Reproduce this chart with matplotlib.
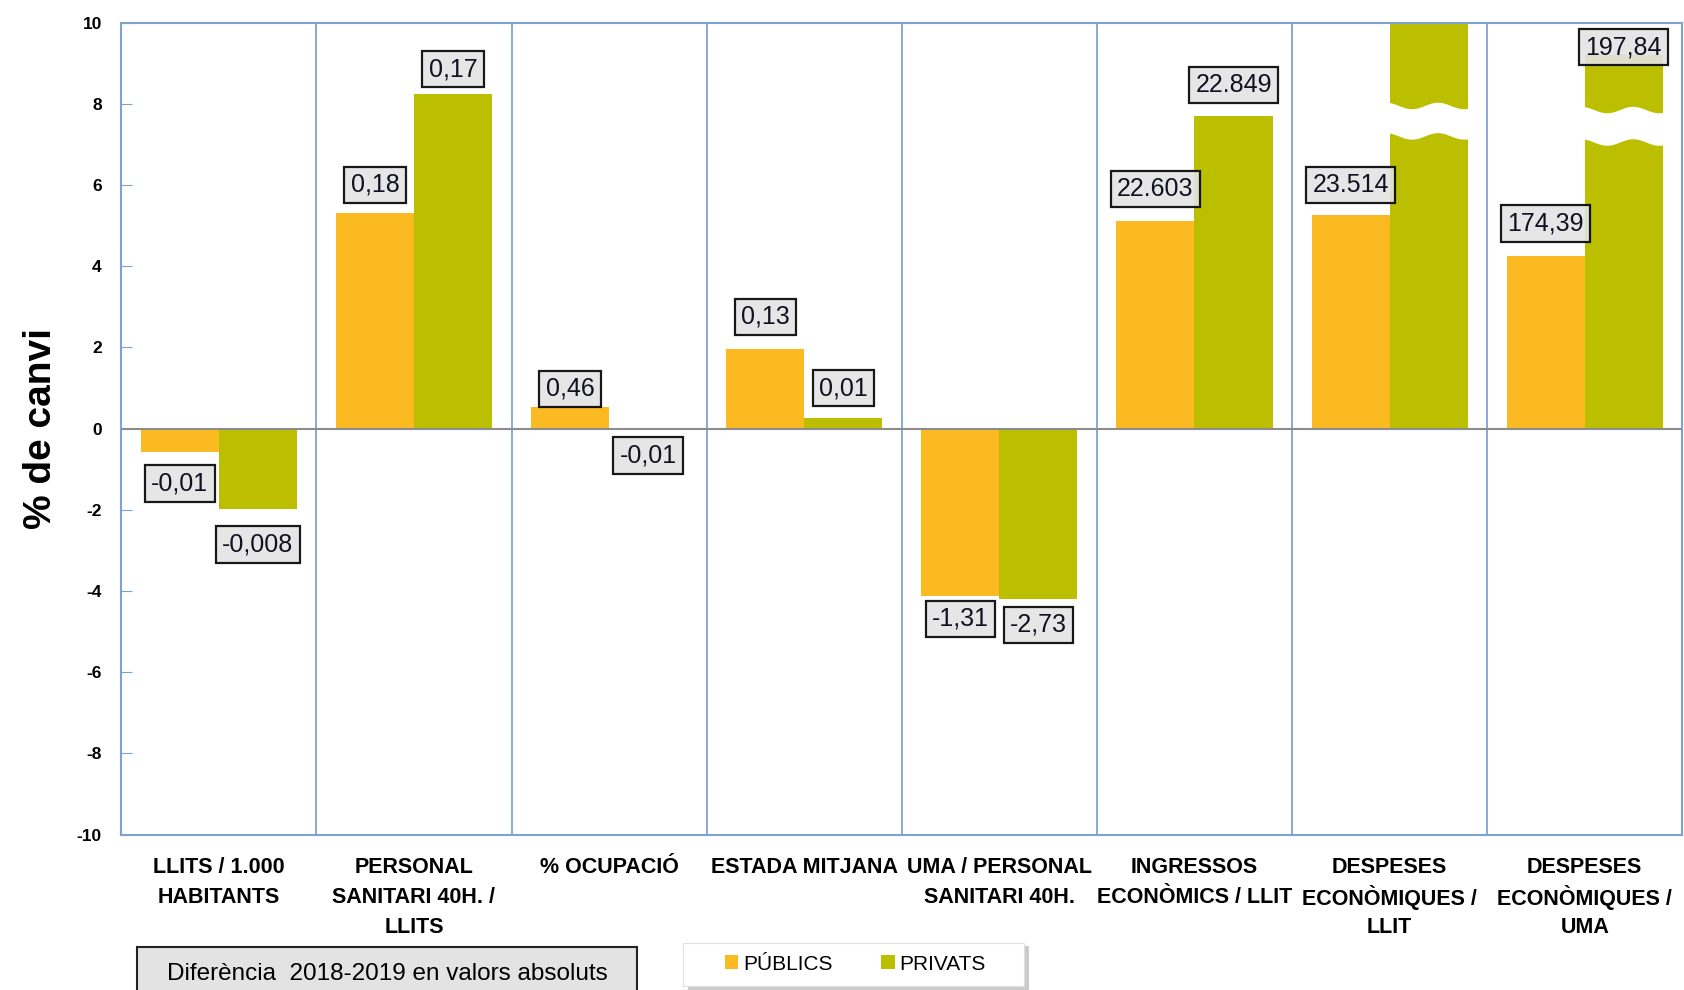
import numpy as np
import matplotlib
matplotlib.use('Agg')
import matplotlib.pyplot as plt
from matplotlib.patches import Rectangle, Polygon

plt.rcParams['font.family'] = ['Liberation Sans', 'DejaVu Sans']
plt.rcParams['axes.unicode_minus'] = False

# data (heights as drawn on the % scale, labels are the absolute differences)
categories = ['LLITS / 1.000\nHABITANTS', 'PERSONAL\nSANITARI 40H. /\nLLITS', '% OCUPACIÓ',
              'ESTADA MITJANA', 'UMA / PERSONAL\nSANITARI 40H.', 'INGRESSOS\nECONÒMICS / LLIT',
              'DESPESES\nECONÒMIQUES /\nLLIT', 'DESPESES\nECONÒMIQUES /\nUMA']
publics = [-0.58, 5.32, 0.53, 1.96, -4.13, 5.11, 5.26, 4.26]
privats = [-1.98, 8.25, -0.02, 0.26, -4.2, 7.7, 10.5, 9.2]
publics_labels = ['-0,01', '0,18', '0,46', '0,13', '-1,31', '22.603', '23.514', '174,39']
privats_labels = ['-0,008', '0,17', '-0,01', '0,01', '-2,73', '22.849', '', '197,84']
broken = [False, False, False, False, False, False, True, True]  # privats bars with a scale break
break_lo = [0, 0, 0, 0, 0, 0, 7.2, 7.05]
break_hi = [0, 0, 0, 0, 0, 0, 7.95, 7.85]

# label distance from bar end (pixels)
publics_off = [29, 26, 17, 30, 21, 30, 28, 30]
privats_off = [33, 23, 24, 28, 24, 29, 0, 0]

orange = '#FBBA22'
green = '#BBBF00'
blue = '#7EA2D4'

fig = plt.figure(figsize=(16.84, 9.90), dpi=100)
ax = fig.add_axes([0.072, 0.157, 0.927, 0.82])

x = np.arange(len(categories))
w = 0.4
b1 = ax.bar(x - w / 2, publics, w, color=orange, label='PÚBLICS', zorder=2)
b2 = ax.bar(x + w / 2, privats, w, color=green, label='PRIVATS', zorder=2)

ax.set_xlim(-0.5, len(categories) - 0.5)
ax.set_ylim(-10, 10)
ax.set_yticks(np.arange(-10, 11, 2))
ax.tick_params(axis='y', direction='in', length=8, color=blue, pad=14, labelsize=12.5)
for t in ax.get_yticklabels():
    t.set_fontweight('bold')
ax.set_xticks(x, [''] * len(x))
ax.tick_params(axis='x', length=0)

# category labels, line by line so accents don't shift the rows
for i, cat in enumerate(categories):
    for k, line in enumerate(cat.split('\n')):
        ax.annotate(line, xy=(x[i], 0), xycoords=('data', 'axes fraction'),
                    xytext=(0, -24 - 21.6 * k), textcoords='offset points',
                    ha='center', va='center', fontsize=15.5, fontweight='bold')

ax.set_xticks(np.arange(0.5, len(categories) - 0.5), minor=True)
ax.tick_params(axis='x', which='minor', length=0)
ax.grid(axis='x', which='minor', color=blue, lw=1.3, zorder=1)
for s in ax.spines.values():
    s.set_color(blue)
    s.set_linewidth(1.5)
ax.axhline(0, color='#8c8c8c', lw=1.5, zorder=3)

ax.set_ylabel('% de canvi', fontsize=28, fontweight='bold', labelpad=13)

# scale break waves on the long bars
for i, br in enumerate(broken):
    if not br:
        continue
    xs = np.linspace(x[i] - 0.005, x[i] + w + 0.01, 60)
    wave = 0.08 * np.sin((xs - x[i]) / w * 3.0 * np.pi + 2.0)
    pts = np.vstack([np.column_stack([xs, break_hi[i] + wave]),
                     np.column_stack([xs[::-1], break_lo[i] + wave[::-1]])])
    ax.add_patch(Polygon(pts, closed=True, fc='white', ec='none', zorder=4))

# data labels
box = dict(boxstyle='square,pad=0.25', fc='#E4E4E4', ec='black', lw=1.6, alpha=0.9)
for vals, labs, offs, dx, brk in [(publics, publics_labels, publics_off, -w / 2, [False] * 8),
                                  (privats, privats_labels, privats_off, w / 2, broken)]:
    for i, (v, lab) in enumerate(zip(vals, labs)):
        if not lab:
            continue
        if brk[i]:
            ax.text(x[i] + dx, 9.4, lab, ha='center', va='center', fontsize=18,
                    color='#111122', bbox=box, zorder=5)
            continue
        off = offs[i] * 1.074 * 0.72
        ax.annotate(lab, xy=(x[i] + dx, v), xytext=(0, off if v >= 0 else -off),
                    textcoords='offset points', ha='center', va='center', fontsize=18,
                    color='#111122', bbox=box, zorder=5)

# bottom note box
fig.patches.append(Rectangle((0.0814, -0.02), 0.297, 0.0634, transform=fig.transFigure,
                             fc='#E3E3E3', ec='#222222', lw=1.5))
fig.text(0.23, 0.016, 'Diferència  2018-2019 en valors absoluts', ha='center', va='center',
         fontsize=17.5)

# legend box with shadow
fig.patches.append(Rectangle((0.4086, 0.0005), 0.2025, 0.0435, transform=fig.transFigure,
                             fc='#b5b5b5', ec='none', alpha=0.7))
fig.patches.append(Rectangle((0.4056, 0.004), 0.2025, 0.0435, transform=fig.transFigure,
                             fc='white', ec='#e0e0e0', lw=0.8))
leg = fig.legend(handles=[b1, b2], loc='center', bbox_to_anchor=(0.508, 0.026), ncol=2,
                 frameon=False, handlelength=0.65, handleheight=0.65,
                 handletextpad=0.25, columnspacing=2.3, prop={'size': 15})

fig.savefig('out.png', dpi=100)
